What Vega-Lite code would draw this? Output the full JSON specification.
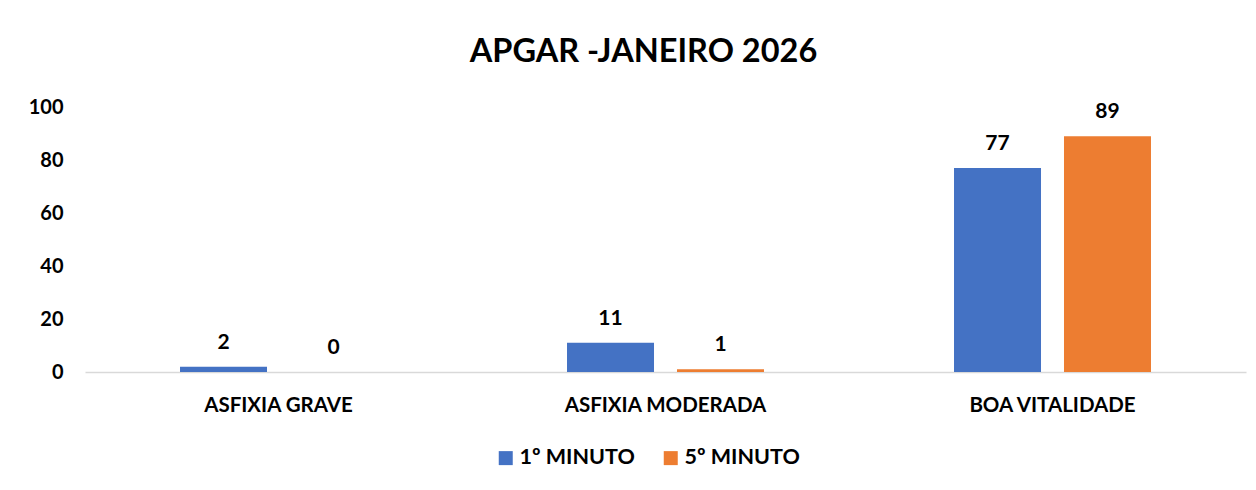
{
  "$schema": "https://vega.github.io/schema/vega-lite/v6.json",
  "autosize": {"type": "none"},
  "width": 1161,
  "height": 265,
  "padding": {"left": 85, "top": 107, "right": 10, "bottom": 118},
  "background": "white",
  "title": {
    "text": "APGAR -JANEIRO 2026",
    "font": "Lato",
    "fontSize": 32.5,
    "fontWeight": "bold",
    "color": "#000000",
    "anchor": "middle",
    "dx": -22,
    "baseline": "alphabetic",
    "offset": 3
  },
  "data": {
    "values": [
      {"categoria": "ASFIXIA GRAVE", "serie": "1º MINUTO", "valor": 2},
      {"categoria": "ASFIXIA GRAVE", "serie": "5º MINUTO", "valor": 0},
      {"categoria": "ASFIXIA MODERADA", "serie": "1º MINUTO", "valor": 11},
      {"categoria": "ASFIXIA MODERADA", "serie": "5º MINUTO", "valor": 1},
      {"categoria": "BOA VITALIDADE", "serie": "1º MINUTO", "valor": 77},
      {"categoria": "BOA VITALIDADE", "serie": "5º MINUTO", "valor": 89}
    ]
  },
  "encoding": {
    "x": {
      "field": "categoria",
      "type": "nominal",
      "sort": null,
      "scale": {"paddingInner": 0.491, "paddingOuter": 0.2455},
      "axis": {
        "title": null,
        "labelAngle": 0,
        "labelFont": "Lato",
        "labelFontSize": 20.5,
        "labelFontWeight": "bold",
        "labelColor": "#000000",
        "labelPadding": 23,
        "labelLimit": 0,
        "ticks": false,
        "domainColor": "#d9d9d9",
        "domainWidth": 1.5
      }
    },
    "xOffset": {
      "field": "serie",
      "type": "nominal",
      "scale": {"paddingInner": 0.209, "paddingOuter": 0}
    },
    "y": {
      "field": "valor",
      "type": "quantitative",
      "scale": {"domain": [0, 100]},
      "axis": {
        "title": null,
        "values": [0, 20, 40, 60, 80, 100],
        "grid": false,
        "domain": false,
        "ticks": false,
        "labelFont": "Lato",
        "labelFontSize": 20,
        "labelFontWeight": "bold",
        "labelColor": "#000000",
        "labelPadding": 22
      }
    }
  },
  "layer": [
    {
      "mark": {"type": "bar"},
      "encoding": {
        "color": {
          "field": "serie",
          "type": "nominal",
          "scale": {"domain": ["1º MINUTO", "5º MINUTO"], "range": ["#4472C4", "#ED7D31"]},
          "legend": {
            "title": null,
            "orient": "none",
            "direction": "horizontal",
            "legendX": 410,
            "legendY": 340,
            "symbolType": "square",
            "symbolSize": 196,
            "symbolStrokeWidth": 0,
            "labelFont": "Lato",
            "labelFontSize": 21.5,
            "labelFontWeight": "bold",
            "labelColor": "#000000",
            "labelOffset": 3,
            "columnPadding": 25
          }
        }
      }
    },
    {
      "mark": {
        "type": "text",
        "baseline": "bottom",
        "dy": -14,
        "font": "Lato",
        "fontSize": 21,
        "fontWeight": "bold",
        "color": "#000000"
      },
      "encoding": {
        "text": {"field": "valor", "type": "quantitative"}
      }
    }
  ],
  "config": {"view": {"stroke": null}}
}
